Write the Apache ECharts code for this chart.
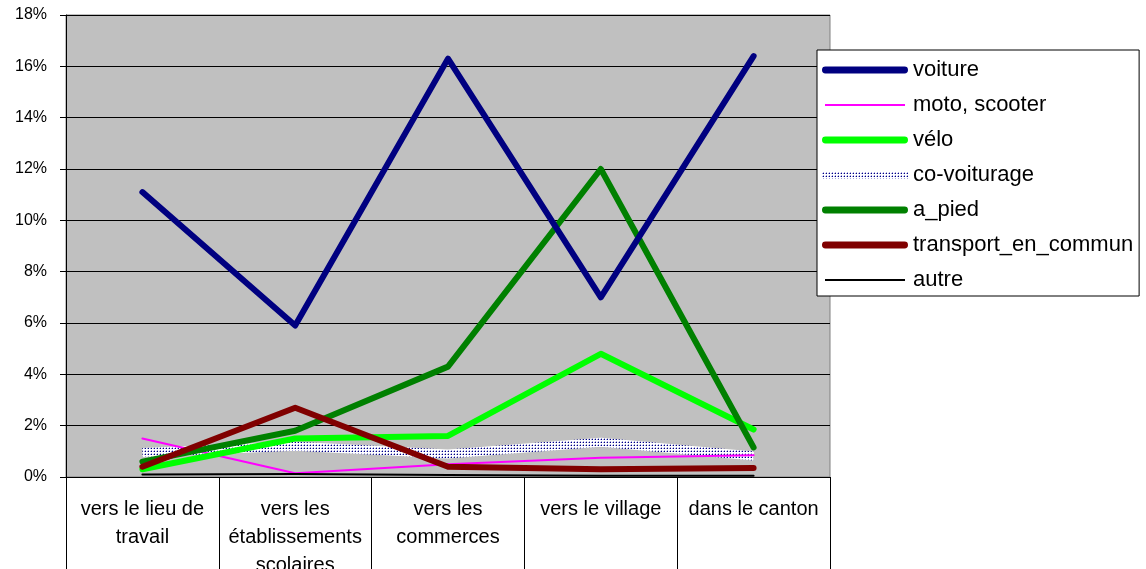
<!DOCTYPE html>
<html>
<head>
<meta charset="utf-8">
<script src="https://cdn.jsdelivr.net/npm/echarts@6/dist/echarts.min.js"></script>
<style>
  html, body { margin: 0; padding: 0; background: #fff; }
  #chart { width: 1146px; height: 569px; }
</style>
</head>
<body>
<div id="chart"></div>
<script>
// catégories (axe x)
var categories = [
  'vers le lieu de\ntravail',
  'vers les\nétablissements\nscolaires',
  'vers les\ncommerces',
  'vers le village',
  'dans le canton'
]

// valeurs en %
var voiture = [11.1, 5.9, 16.3, 7.0, 16.4]
var motoScooter = [1.5, 0.15, 0.5, 0.75, 0.85]
var velo = [0.3, 1.5, 1.6, 4.8, 1.85]
var coVoiturage = [0.95, 1.2, 0.9, 1.35, 0.82]
var aPied = [0.6, 1.8, 4.3, 12.0, 1.15]
var transportEnCommun = [0.4, 2.7, 0.4, 0.3, 0.35]
var autre = [0.1, 0.12, 0.08, 0.05, 0.05]

var yTicks = [0, 2, 4, 6, 8, 10, 12, 14, 16, 18]

// motif pointillé bleu pour co-voiturage
function dotPattern () {
  var c = document.createElement('canvas')
  c.width = 3
  c.height = 3
  var ctx = c.getContext('2d')
  ctx.fillStyle = '#ffffff'
  ctx.fillRect(0, 0, 3, 3)
  ctx.fillStyle = '#a8a8e0'
  ctx.fillRect(0, 1, 1, 1)
  ctx.fillRect(1, 0, 1, 1)
  ctx.fillStyle = '#000080'
  ctx.fillRect(1, 1, 1, 1)
  return c
}
var pattern = { image: dotPattern(), repeat: 'repeat' }

// icônes de légende : trait épais / fin
var thickIcon = 'path://M3,2.5H83A3.5,3.5,0,0,1,83,9.5H3A3.5,3.5,0,0,1,3,2.5Z M0,0H0.01V0.01H0Z M86,12H85.99V11.99H86Z'
var thinIcon = 'path://M3,5H83V7H3Z M0,0H0.01V0.01H0Z M86,12H85.99V11.99H86Z'
var rectIcon = 'path://M0,2H86V10H0Z M0,0H0.01V0.01H0Z M86,12H85.99V11.99H86Z'

function line (name, data, color, width, z, cap) {
  return {
    name: name,
    type: 'line',
    data: data,
    symbol: 'none',
    z: z,
    lineStyle: { color: color, width: width, cap: cap || 'round', join: 'round' },
    itemStyle: { color: color }
  }
}

var myChart = echarts.init(document.getElementById('chart'))
myChart.setOption({
  animation: false,
  textStyle: { fontFamily: 'Liberation Sans, Arial, sans-serif' },
  grid: {
    left: 66,
    right: 316,
    top: 15,
    bottom: 92,
    outerBoundsMode: 'none',
    show: true,
    backgroundColor: '#c0c0c0',
    borderColor: '#808080',
    borderWidth: 1
  },
  legend: {
    orient: 'vertical',
    left: 817,
    top: 50,
    backgroundColor: '#fff',
    borderColor: '#000',
    borderWidth: 1,
    borderRadius: 0,
    padding: [9, 6, 5, 5],
    itemWidth: 86,
    itemHeight: 12,
    itemGap: 13,
    itemStyle: { borderWidth: 0 },
    textStyle: { fontSize: 22, color: '#000', lineHeight: 20, fontFamily: 'Liberation Sans, Arial, sans-serif' },
    data: [
      { name: 'voiture', icon: thickIcon },
      { name: 'moto, scooter', icon: thinIcon },
      { name: 'vélo', icon: thickIcon },
      { name: 'co-voiturage', icon: rectIcon },
      { name: 'a_pied', icon: thickIcon },
      { name: 'transport_en_commun', icon: thickIcon },
      { name: 'autre', icon: thinIcon }
    ]
  },
  xAxis: {
    type: 'category',
    data: categories,
    boundaryGap: true,
    axisLine: { lineStyle: { color: '#000', width: 1 } },
    axisTick: { show: true, interval: 0, length: 95, lineStyle: { color: '#000' } },
    axisLabel: {
      interval: 0,
      margin: 18,
      fontSize: 20,
      lineHeight: 28,
      color: '#000',
      verticalAlign: 'top'
    }
  },
  yAxis: {
    type: 'value',
    min: yTicks[0],
    max: yTicks[yTicks.length - 1],
    interval: 2,
    axisLine: { show: true, lineStyle: { color: '#000' } },
    axisTick: { show: true, length: 6, lineStyle: { color: '#000' } },
    axisLabel: { fontSize: 16, color: '#000', margin: 19, formatter: '{value}%' },
    splitLine: { lineStyle: { color: '#000', width: 1 } }
  },
  series: [
    line('voiture', voiture, '#000080', 6, 8),
    line('moto, scooter', motoScooter, '#ff00ff', 2, 3),
    line('vélo', velo, '#00ff00', 6, 5),
    line('co-voiturage', coVoiturage, pattern, 9, 2, 'butt'),
    line('a_pied', aPied, '#008000', 6, 6),
    line('transport_en_commun', transportEnCommun, '#800000', 6, 7),
    line('autre', autre, '#000000', 2, 4)
  ]
})
</script>
</body>
</html>
